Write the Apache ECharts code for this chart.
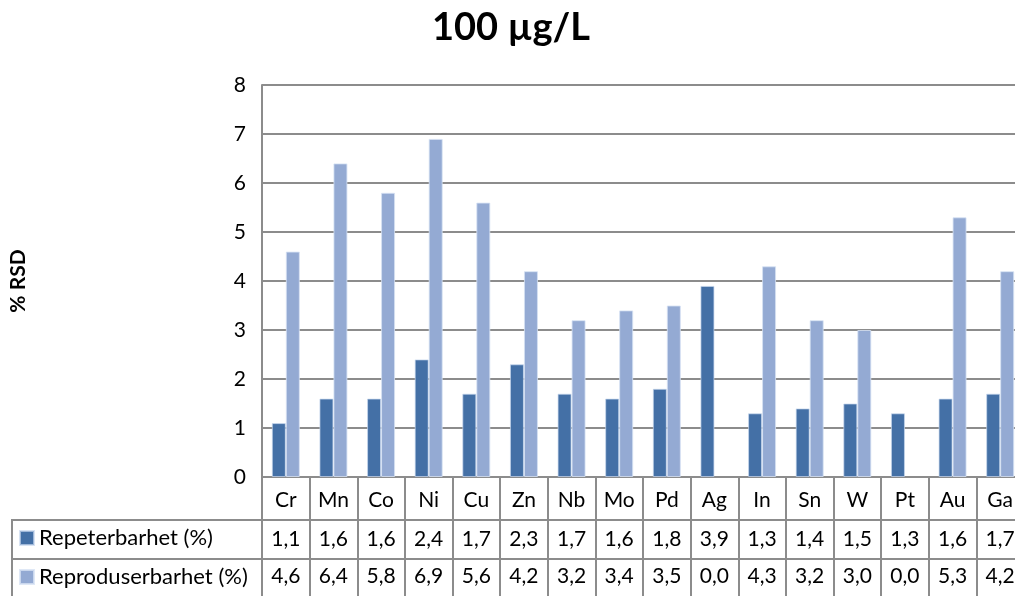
<!DOCTYPE html>
<html>
<head>
<meta charset="utf-8">
<title>100 µg/L</title>
<script src="https://cdn.jsdelivr.net/npm/echarts@6/dist/echarts.min.js"></script>
<style>
  html, body { margin: 0; padding: 0; background: #fff; }
  #chart { width: 1015px; height: 596px; }
</style>
</head>
<body>
<div id="chart"></div>
<script>
// Elements measured
const elements = ['Cr', 'Mn', 'Co', 'Ni', 'Cu', 'Zn', 'Nb', 'Mo', 'Pd', 'Ag', 'In', 'Sn', 'W', 'Pt', 'Au', 'Ga'];
// Relative standard deviation, %
const repeterbarhet = [1.1, 1.6, 1.6, 2.4, 1.7, 2.3, 1.7, 1.6, 1.8, 3.9, 1.3, 1.4, 1.5, 1.3, 1.6, 1.7];
const reproduserbarhet = [4.6, 6.4, 5.8, 6.9, 5.6, 4.2, 3.2, 3.4, 3.5, 0.0, 4.3, 3.2, 3.0, 0.0, 5.3, 4.2];
const seriesNames = ['Repeterbarhet (%)', 'Reproduserbarhet (%)'];
const yTicks = { min: 0, max: 8, interval: 1 };

const FONT = 'Lato, "Open Sans", sans-serif';
const LINE = '#8c8c8c';
const DARK = '#4470a6';
const LIGHT = '#94aad3';

// Plot geometry (the last column runs past the right edge of the page)
const G = { left: 262, top: 85, width: 762, height: 392 };
const ROW0 = 43;   // element name row
const ROW = 39;    // value rows

const fmt = v => v.toFixed(1).replace('.', ',');

function tableAxis(offset, tickLen, margin, formatter) {
  return {
    type: 'category',
    data: elements,
    position: 'bottom',
    offset: offset,
    axisLine: { show: true, lineStyle: { color: LINE, width: 2 } },
    axisTick: { show: true, interval: 0, length: tickLen, lineStyle: { color: LINE, width: 2 } },
    axisLabel: { show: true, interval: 0, margin: margin, color: '#000',
      fontFamily: FONT, fontSize: 21, formatter: formatter },
    splitLine: { show: false }
  };
}

// zero-height bars get no outline
function barData(values) {
  return values.map(v => v === 0 ? { value: v, itemStyle: { borderWidth: 0 } } : v);
}

function legendRow(name, top) {
  return {
    left: 19, top: top, padding: 0,
    itemWidth: 14, itemHeight: 14,
    icon: 'rect',
    selectedMode: false,
    data: [name],
    textStyle: { fontFamily: FONT, fontSize: 22, color: '#000' }
  };
}

const chart = echarts.init(document.getElementById('chart'));
chart.setOption({
  animation: false,
  title: {
    text: '100 µg/L',
    left: 511, textAlign: 'center', top: 9, padding: 0,
    textStyle: { fontFamily: FONT, fontWeight: 'bold', fontSize: 38, color: '#000' }
  },
  legend: [
    legendRow(seriesNames[0], 527),
    legendRow(seriesNames[1], 566)
  ],
  grid: { left: G.left, top: G.top, width: G.width, height: G.height, outerBoundsMode: 'none' },
  xAxis: [
    tableAxis(0, ROW0, 13, v => v),
    tableAxis(ROW0, ROW, 9, (v, i) => fmt(repeterbarhet[i])),
    tableAxis(ROW0 + ROW, ROW, 7, (v, i) => fmt(reproduserbarhet[i]))
  ],
  yAxis: {
    type: 'value',
    min: yTicks.min, max: yTicks.max, interval: yTicks.interval,
    name: '% RSD',
    nameLocation: 'middle',
    nameRotate: 90,
    nameGap: 233,
    nameTextStyle: { fontFamily: FONT, fontWeight: 'bold', fontSize: 21, color: '#000' },
    axisLine: { show: true, lineStyle: { color: LINE, width: 2 } },
    axisTick: { show: false },
    axisLabel: { fontFamily: FONT, fontSize: 21, color: '#000', margin: 16 },
    splitLine: { show: true, lineStyle: { color: LINE, width: 2 } }
  },
  series: [
    {
      name: seriesNames[0], type: 'bar', xAxisIndex: 0,
      data: barData(repeterbarhet), barWidth: 14, barGap: '0%',
      itemStyle: { color: DARK, borderColor: 'rgba(200,215,238,0.7)', borderWidth: 1 }
    },
    {
      name: seriesNames[1], type: 'bar', xAxisIndex: 0,
      data: barData(reproduserbarhet), barWidth: 14,
      itemStyle: { color: LIGHT, borderColor: 'rgba(215,226,244,0.8)', borderWidth: 1 }
    }
  ],
  graphic: [
    // legend cell borders
    { type: 'line', shape: { x1: 12, y1: 520, x2: 262, y2: 520 }, style: { stroke: LINE, lineWidth: 2 } },
    { type: 'line', shape: { x1: 12, y1: 559, x2: 262, y2: 559 }, style: { stroke: LINE, lineWidth: 2 } },
    { type: 'line', shape: { x1: 12, y1: 519, x2: 12, y2: 600 }, style: { stroke: LINE, lineWidth: 2 } }
  ]
});
</script>
</body>
</html>
